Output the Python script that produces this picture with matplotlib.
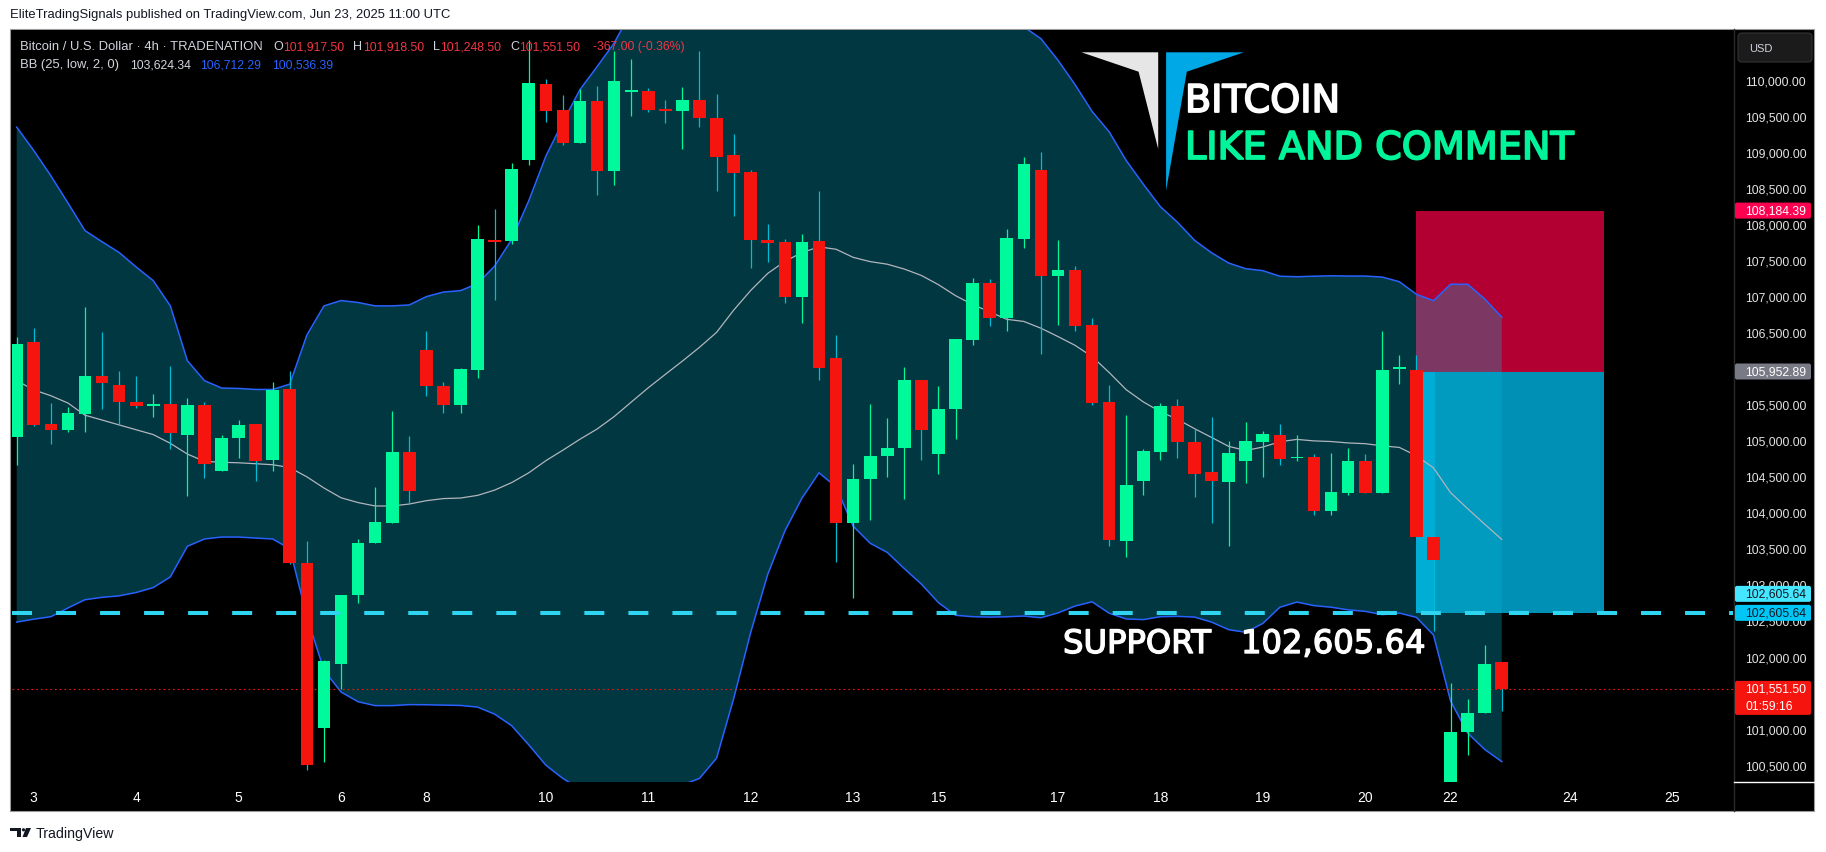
import numpy as np
import matplotlib
matplotlib.use("Agg")
import matplotlib.pyplot as plt
import matplotlib.patheffects as pe
from matplotlib.patches import Rectangle, Polygon, FancyBboxPatch, Circle
from matplotlib.transforms import Affine2D

plt.rcParams['lines.scale_dashes'] = False

W, H, DPI = 1826, 853, 100

# ---------------- data (4h candles, BTCUSD) ----------------
opens = [105044, 106358, 105226, 105138, 105361, 105893, 105772, 105536, 105475, 105502,
         105071, 105489, 104579, 105024, 105226, 104721, 105704, 103300, 101002, 101892,
         102848, 103576, 103845, 104842, 106257, 105758, 105489, 105974, 107779, 107759,
         108884, 109941, 109577, 109119, 109705, 108729, 109827, 109840, 109591, 109571,
         109719, 109470, 108951, 108715, 107772, 107745, 106991, 107759, 106135, 103845,
         104458, 104775, 104889, 105839, 104802, 105428, 106385, 107186, 106688, 107786,
         108742, 107281, 107355, 106593, 105536, 103609, 104431, 104842, 105468, 104977,
         104559, 104418, 104707, 104977, 105071, 104748, 104761, 104013, 104269, 104707,
         104263, 105987, 105980, 103657, 100000, 100956, 101211, 101917.5]
highs = [106425, 106560, 105516, 105462, 106849, 106506, 105953, 105893, 105637, 106034,
         105583, 105536, 105071, 105280, 105226, 105812, 105960, 103609, 101946, 102855,
         103630, 104350, 105408, 105064, 106513, 105812, 106001, 107981, 108210, 108843,
         110550, 110009, 109786, 109874, 109914, 110399, 110285, 109881, 109719, 109901,
         110399, 109800, 109247, 108749, 107995, 107786, 107853, 108459, 106465, 104667,
         105502, 105314, 106021, 105839, 105758, 106398, 107247, 107233, 107927, 108931,
         108998, 107772, 107422, 106694, 105765, 105354, 104876, 105516, 105570, 105152,
         105327, 104990, 105246, 105125, 105226, 105071, 104808, 104829, 104889, 104808,
         106519, 106176, 106176, 103657, 101629, 101407, 102154, 101918.5]
lows = [104654, 105192, 104943, 105111, 105111, 105428, 105206, 105448, 105327, 104876,
        104222, 104472, 104573, 104754, 104438, 104579, 103279, 100430, 100531, 101555,
        102740, 103576, 103845, 104128, 105617, 105381, 105381, 105866, 106944, 107725,
        108816, 109409, 109099, 109119, 108399, 108533, 109490, 109557, 109402, 109045,
        109348, 108459, 108109, 107388, 107469, 106897, 106620, 105832, 103306, 102808,
        103899, 104485, 104182, 104727, 104525, 105011, 106324, 106580, 106519, 107664,
        106189, 106593, 106519, 105489, 103529, 103380, 104236, 104721, 104754, 104216,
        103852, 103529, 104404, 104492, 104654, 104707, 103966, 103966, 104236, 104263,
        104263, 105785, 103663, 102350, 99062, 100632, 101211, 101248.5]
closes = [106337, 105206, 105138, 105381, 105893, 105792, 105536, 105475, 105489, 105098,
          105489, 104667, 105037, 105212, 104707, 105691, 103293, 100497, 101932, 102855,
          103576, 103865, 104842, 104290, 105751, 105489, 105987, 107786, 107752, 108756,
          109955, 109571, 109119, 109705, 108729, 109982, 109840, 109577, 109571, 109719,
          109463, 108931, 108702, 107772, 107739, 106991, 107745, 106007, 103845, 104465,
          104781, 104896, 105839, 105138, 105435, 106398, 107186, 106694, 107799, 108830,
          107281, 107355, 106580, 105522, 103616, 104384, 104855, 105468, 104970, 104525,
          104431, 104829, 104990, 105091, 104734, 104768, 104013, 104283, 104707, 104263,
          105980, 105994, 103663, 103340, 100949, 101211, 101898, 101551.5]

# Bollinger band values for the first candles (before a full 25-bar window)
bb_upper_early = [109342, 109018, 108668, 108291, 107907, 107752, 107604, 107402, 107213, 106863,
                  106102, 105826, 105724, 105718, 105704, 105704, 105778, 106459, 106863, 106937,
                  106910, 106863, 106863, 106876]
bb_basis_early = [105826, 105698, 105617, 105516, 105347, 105280, 105212, 105145, 105078, 104957,
                  104808, 104707, 104694, 104687, 104674, 104660, 104620, 104492, 104337, 104202,
                  104135, 104088, 104088, 104115]
bb_lower_early = [102478, 102518, 102552, 102673, 102788, 102821, 102841, 102888, 102956, 103104,
                  103529, 103630, 103657, 103657, 103643, 103630, 103495, 102552, 101811, 101508,
                  101373, 101319, 101319, 101333]
bb_length = 25
bb_mult = 2

# legend values as printed on the chart
legend_change = -367.00
legend_change_pct = -0.36
legend_bb = [103624.34, 106712.29, 100536.39]

day_tick_index = [1, 7, 13, 19, 24, 31, 37, 43, 49, 54, 61, 67, 73, 79, 84, 91, 97]
day_tick_labels = ["3", "4", "5", "6", "8", "10", "11", "12", "13", "15", "17", "18", "19", "20",
                   "22", "24", "25"]
price_ticks = list(range(100500, 110001, 500))

support_level = 102605.64
stop_level = 108184.39
entry_level = 105952.89
last_close = 101551.50
position_start, position_end = 82, 93

# ---------------- colours ----------------
GREEN = '#00f99a'
RED = '#f5140e'
RED_WICK = '#00bcd4'
BAND_FILL = '#00b7d5'
BAND_LINE = '#2962ff'
BASIS = '#b2b5be'
SUPPORT_C = '#2fd5f0'

FS = ['Liberation Sans', 'DejaVu Sans']

# ---------------- Bollinger computation ----------------
lows_a = np.array(lows, float)
n = len(lows_a)
upper = np.full(n, np.nan)
basis = np.full(n, np.nan)
lower = np.full(n, np.nan)
k = len(bb_upper_early)
upper[:k] = bb_upper_early
basis[:k] = bb_basis_early
lower[:k] = bb_lower_early
for i in range(bb_length - 1, n):
    w = lows_a[i - bb_length + 1:i + 1]
    m = w.mean()
    s = w.std()
    basis[i] = m
    upper[i] = m + bb_mult * s
    lower[i] = m - bb_mult * s

# ---------------- figure ----------------
fig = plt.figure(figsize=(W / DPI, H / DPI), dpi=DPI, facecolor='white')
pix = Affine2D().scale(1.0 / W, -1.0 / H).translate(0, 1) + fig.transFigure

L, R, T, B = 12, 1733, 31, 783
ax = fig.add_axes([L / W, 1 - B / H, (R - L) / W, (B - T) / H])
ax.set_facecolor('black')
for sp in ax.spines.values():
    sp.set_visible(False)

# panel background
fig.patches.append(Rectangle((10, 30), 1804, 782, transform=pix, facecolor='black',
                             edgecolor='#9a9a9a', lw=0.8, zorder=-5))

ax.set_xlim(-0.275, 100.545)
ax.set_ylim(100260, 110689)

x = np.arange(n)
o = np.array(opens, float)
h = np.array(highs, float)
l = np.array(lows, float)
c = np.array(closes, float)

# position tool boxes
ax.add_patch(Rectangle((position_start, entry_level), position_end - position_start,
                       stop_level - entry_level, facecolor='#b20032', lw=0, zorder=1))
ax.add_patch(Rectangle((position_start, support_level), position_end - position_start,
                       entry_level - support_level, facecolor='#0090b6', lw=0, zorder=1))
ax.add_patch(Rectangle((position_start, support_level), 1.1,
                       entry_level - support_level, facecolor='#00c4ee', alpha=0.45, lw=0,
                       zorder=2.5))

# Bollinger bands
ax.fill_between(x, lower, upper, color=BAND_FILL, alpha=0.3, lw=0, zorder=2)
ax.plot(x, upper, color=BAND_LINE, lw=1.1, zorder=3)
ax.plot(x, lower, color=BAND_LINE, lw=1.1, zorder=3)
ax.plot(x, basis, color=BASIS, lw=0.9, zorder=3)

# last price dotted line
ax.axhline(last_close, color='#f5140e', lw=0.8, linestyle=(0, (1.2, 2.2)), zorder=3)

# candles
up = c >= o
body_bottom = np.minimum(o, c)
body_h = np.maximum(np.abs(c - o), 25)
ax.vlines(x, l, h, colors=np.where(up, GREEN, RED_WICK), lw=0.9, zorder=4)
ax.bar(x, body_h, bottom=body_bottom, width=0.74, color=np.where(up, GREEN, RED),
       lw=0, zorder=5)

# support dashed line
ax.axhline(support_level, color=SUPPORT_C, lw=2.9, linestyle=(0, (14.4, 17.3)), zorder=6)

# axes ticks
ax.set_xticks(day_tick_index)
ax.set_xticklabels(day_tick_labels)
ax.tick_params(axis='x', length=0, pad=6, colors='white', labelsize=10)
for t in ax.get_xticklabels():
    t.set_fontfamily(['Liberation Sans Narrow', 'Liberation Sans', 'DejaVu Sans'])

ax.yaxis.tick_right()
ax.set_yticks(price_ticks)
ax.set_yticklabels([f"{v:,.2f}" for v in price_ticks])
ax.tick_params(axis='y', length=0, pad=8.6, colors='#e3e3e3', labelsize=8.8)
for t in ax.get_yticklabels():
    t.set_fontfamily(FS)

fig.canvas.draw()


def py(price):
    return H - ax.transData.transform((0, price))[1]


# separators on the price scale
fig.lines.append(plt.Line2D([1734, 1734], [30, 812], transform=pix, color='#2a2a2a', lw=1, zorder=3))
fig.lines.append(plt.Line2D([1734, 1814], [783, 783], transform=pix, color='white', lw=1, zorder=3))


def axis_label(ycenter, text, bg, fg, hgt=16, text2=None):
    top = ycenter - 8
    fig.patches.append(FancyBboxPatch((1735, top), 76, hgt, transform=pix,
                                      boxstyle='round,pad=0,rounding_size=2',
                                      facecolor=bg, edgecolor='none', zorder=8))
    fig.text(1745, ycenter, text, transform=pix, ha='left', va='center', color=fg,
             fontsize=8.8, family=FS, zorder=9)
    if text2:
        fig.text(1745, ycenter + 17, text2, transform=pix, ha='left', va='center', color=fg,
                 fontsize=8.8, family=FS, zorder=9)


axis_label(py(stop_level), f"{stop_level:,.2f}", '#ff0050', 'white')
axis_label(py(entry_level), f"{entry_level:,.2f}", '#787b86', 'white')
axis_label(py(support_level) - 19, f"{support_level:,.2f}", '#45e6ff', '#131722')
axis_label(py(support_level), f"{support_level:,.2f}", '#00c6f5', '#131722')
axis_label(py(last_close), f"{last_close:,.2f}", '#f5140e', 'white', hgt=34, text2="01:59:16")

# USD button
fig.patches.append(FancyBboxPatch((1738, 34), 74, 29, transform=pix,
                                  boxstyle='round,pad=0,rounding_size=4',
                                  facecolor='#1b1b1b', edgecolor='#333333', lw=0.8, zorder=8))
fig.text(1749, 48.5, "USD", transform=pix, ha='left', va='center', color='#d1d4dc',
         fontsize=8, family=FS, zorder=9)

# header legend
HC = '#d1d4dc'
RC = '#f23645'
BC = '#2962ff'
y1, y2 = 47, 65
fig.text(20, y1, "Bitcoin / U.S. Dollar · 4h · TRADENATION", transform=pix, color=HC,
         fontsize=9.4, family=FS, va='center', zorder=9)
for lx, lab, vx, val in [(273.6, "O", 283.2, opens[-1]), (353, "H", 363.5, highs[-1]),
                         (432.9, "L", 440.5, lows[-1]), (509.9, "C", 519, closes[-1])]:
    fig.text(lx, y1, lab, transform=pix, color=HC, fontsize=9.0, family=FS, va='center', zorder=9)
    fig.text(vx, y1, f"{val:,.2f}", transform=pix, color=RC, fontsize=8.8, family=FS,
             va='center', zorder=9)
fig.text(593, y1, f"{legend_change:,.2f} ({legend_change_pct:.2f}%)", transform=pix, color=RC,
         fontsize=8.8, family=FS, va='center', zorder=9)
fig.text(20, y2, "BB (25, low, 2, 0)", transform=pix, color=HC, fontsize=9.4, family=FS,
         va='center', zorder=9)
fig.text(130, y2, f"{legend_bb[0]:,.2f}", transform=pix, color=HC, fontsize=8.8, family=FS,
         va='center', zorder=9)
fig.text(200, y2, f"{legend_bb[1]:,.2f}", transform=pix, color=BC, fontsize=8.8, family=FS,
         va='center', zorder=9)
fig.text(271.7, y2, f"{legend_bb[2]:,.2f}", transform=pix, color=BC, fontsize=8.8, family=FS,
         va='center', zorder=9)

# logo
fig.patches.append(Polygon([(1081.4, 53.3), (1158.2, 53.3), (1158.2, 150), (1138.6, 72.7)],
                           closed=True, transform=pix, facecolor='#e6e6e6', edgecolor='none',
                           zorder=9))
fig.patches.append(Polygon([(1166.1, 53.3), (1243.9, 53.3), (1186.8, 72.7), (1166.1, 191.7)],
                           closed=True, transform=pix, facecolor='#00a8e6', edgecolor='none',
                           zorder=9))
fig.text(1185, 113, "BITCOIN", transform=pix, color='white', fontsize=27.5,
         family='DejaVu Sans', va='baseline', zorder=10,
         path_effects=[pe.withStroke(linewidth=1.3, foreground='white')])
fig.text(1185, 160, "LIKE AND COMMENT", transform=pix, color='#00f59b', fontsize=27.5,
         family='DejaVu Sans', va='baseline', zorder=10,
         path_effects=[pe.withStroke(linewidth=1.3, foreground='#00f59b')])

# support annotation
fig.text(1063, 654, "SUPPORT", transform=pix, color='white', fontsize=23.2,
         family='DejaVu Sans', va='baseline', zorder=10,
         path_effects=[pe.withStroke(linewidth=1.0, foreground='white')])
fig.text(1241, 654, f"{support_level:,.2f}", transform=pix, color='white', fontsize=23.2,
         family='DejaVu Sans', va='baseline', zorder=10,
         path_effects=[pe.withStroke(linewidth=1.0, foreground='white')])

# top caption
fig.text(10, 15, "EliteTradingSignals published on TradingView.com, Jun 23, 2025 11:00 UTC",
         transform=pix, color='#131722', fontsize=9.4, family=FS, va='center')

# footer logo
fig.patches.append(Polygon([(10, 829), (21, 829), (21, 838), (17, 838), (17, 832), (10, 832)],
                           closed=True, transform=pix, facecolor='#131722', edgecolor='none'))
fig.patches.append(Circle((23.5, 830.8), 1.6, transform=pix, facecolor='#131722',
                          edgecolor='none'))
fig.patches.append(Polygon([(26, 829), (31, 829), (27, 838), (22.5, 838)], closed=True,
                           transform=pix, facecolor='#131722', edgecolor='none'))
fig.text(36, 834, "TradingView", transform=pix, color='#131722', fontsize=10.2, family=FS,
         va='center')

fig.savefig('out.png', dpi=DPI, facecolor='white')
